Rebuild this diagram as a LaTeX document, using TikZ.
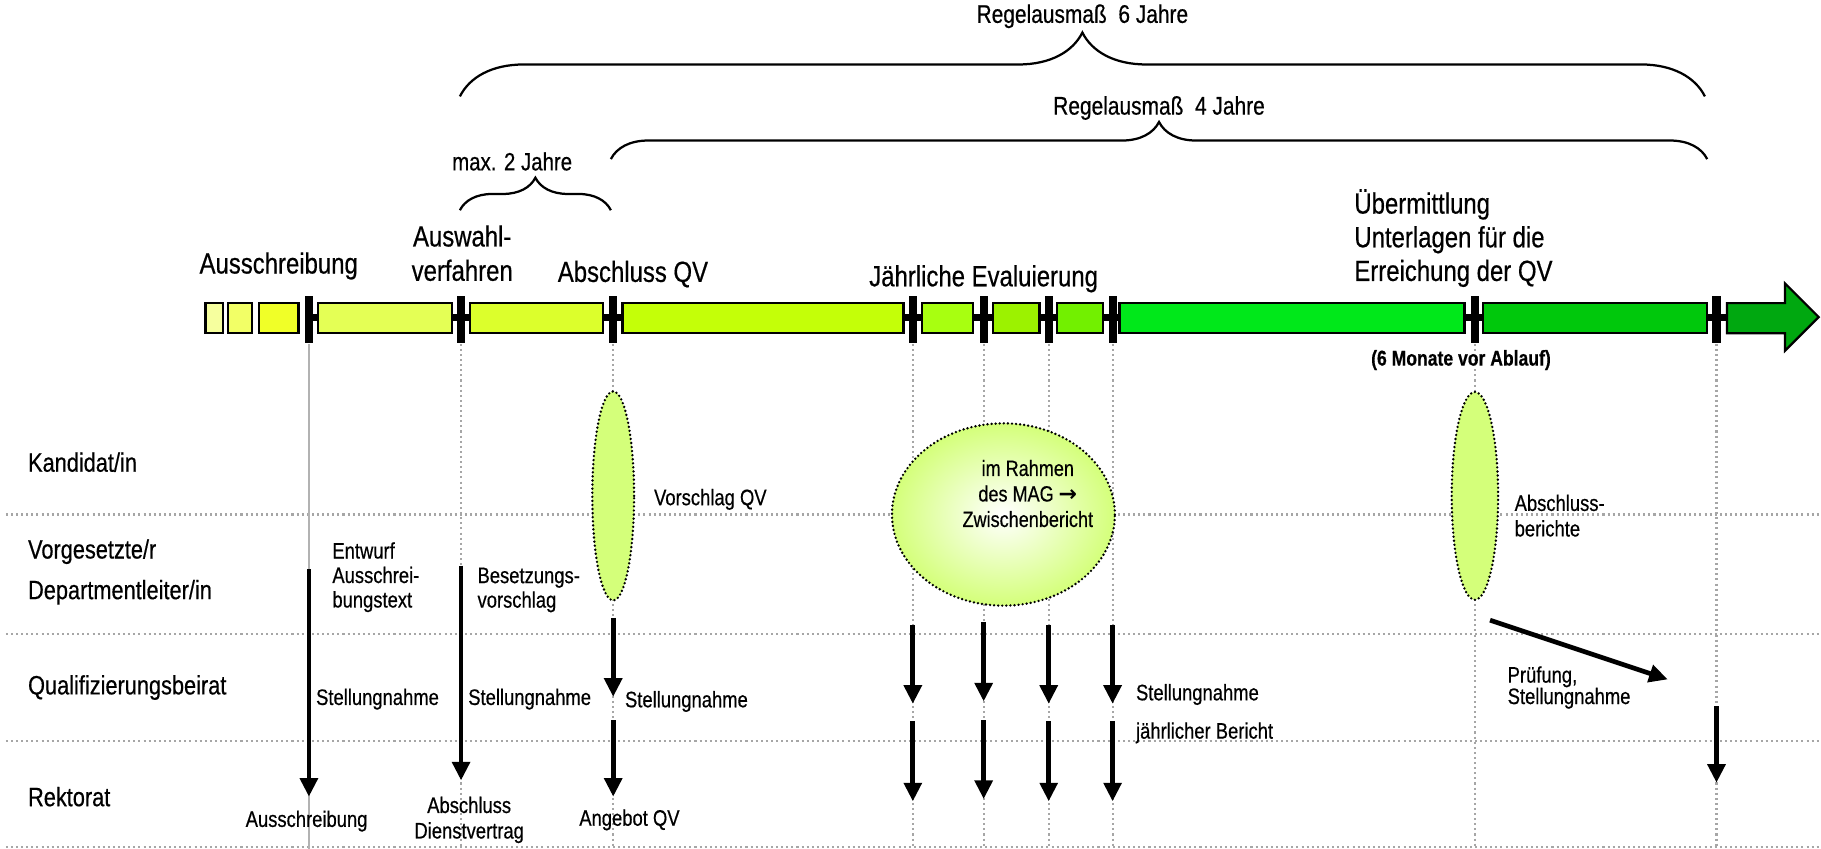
\documentclass[tikz,border=0pt]{standalone}
\usepackage{fontspec}
\setmainfont{Liberation Sans}[FakeStretch=0.82, FakeBold=0.5]
\newfontfamily\arrowfont{DejaVu Sans}
\usetikzlibrary{arrows.meta, decorations.pathreplacing, shapes.geometric}

\definecolor{yA}{HTML}{F6FF9E}
\definecolor{yB}{HTML}{F2FF66}
\definecolor{yC}{HTML}{F0FF28}
\definecolor{yD}{HTML}{E4FF55}
\definecolor{yE}{HTML}{DCFF2C}
\definecolor{yF}{HTML}{C4FF08}
\definecolor{gA}{HTML}{A8FF10}
\definecolor{gB}{HTML}{9CF200}
\definecolor{gC}{HTML}{72F000}
\definecolor{gD}{HTML}{00E81A}
\definecolor{gE}{HTML}{00C80C}
\definecolor{gF}{HTML}{00A810}
\definecolor{qvgreen}{HTML}{D4FF7A}

\begin{document}
\begin{tikzpicture}[x=0.02cm, y=-0.02cm, >={Triangle[width=0.3cm,length=0.32cm]}]
    \tikzset{
        phasebox/.style={draw=black, line width=1.1pt},
        guide/.style={draw=black!35, dash pattern=on 1pt off 1.5pt, line width=1pt},
        flow/.style={->, line width=2.3pt},
        lane/.style={anchor=west, font=\fontsize{13}{15}\selectfont},
        phase/.style={align=center, font=\fontsize{14.3}{16.5}\selectfont},
        note/.style={align=left, font=\fontsize{11}{12}\selectfont},
        yearbrace/.style={decorate, decoration={brace, amplitude=#1}, line width=1.1pt},
        talk/.style={ellipse, draw, dash pattern=on 0pt off 2pt, line cap=round, line width=1.3pt, inner sep=0pt},
    }
    \useasboundingbox (0,0) rectangle (1568,731);

    % Hilfslinien
    \foreach \y in {443,546,638,729}
        \draw[guide] (5,\y) -- (1568,\y);
    \foreach \x in {397,528,786,847,903,958,1270,1478}
        \draw[guide] (\x,296) -- (\x,731);
    \draw[black!30, line width=1.2pt] (266,296) -- (266,731);

    % Zeitachse
    \draw[line width=0.12cm] (266,273) -- (1490,273);
    \foreach \xa/\xb/\col in {177/192/yA, 196/217/yB, 223/257/yC, 274/389/yD, 405/519/yE, 536/778/yF,
                              794/838/gA, 855/895/gB, 910/950/gC, 964/1261/gD, 1277/1470/gE}
        \draw[phasebox, fill=\col] (\xa,261) rectangle (\xb,287);
    \draw[phasebox, fill=gF] (1487,261) -- (1537,261) -- (1537,244) -- (1566,273)
        -- (1537,302) -- (1537,287) -- (1487,287) -- cycle;
    \foreach \x in {266,397,528,786,847,903,958,1270,1478}
        \fill (\x-3.5,255) rectangle (\x+3.5,295);

    % Klammern
    \draw[yearbrace=1.1cm] (396,83) -- (1468,83);
    \draw[yearbrace=0.64cm] (526,137) -- (1470,137);
    \draw[yearbrace=0.56cm] (396,181) -- (526,181);
    \node[font=\fontsize{12.5}{14}\selectfont] (sechs) at (932,14) {Regelausmaß\ \ 6 Jahre};
    \node[font=\fontsize{12.5}{14}\selectfont] (vier) at (998,93) {Regelausmaß\ \ 4 Jahre};
    \node[font=\fontsize{12.2}{14}\selectfont] (zwei) at (441,139) {max. 2 Jahre};

    % Phasen
    \node[phase] (ausschr) at (240,229) {Ausschreibung};
    \node[phase, font=\fontsize{14.3}{16.8}\selectfont] (auswahl) at (398,218) {Auswahl-\\verfahren};
    \node[phase] (abschl) at (545,236) {Abschluss QV};
    \node[phase] (evaluier) at (847,240) {Jährliche Evaluierung};
    \node[phase, align=left, anchor=west, font=\fontsize{14.3}{16.5}\selectfont] (uebermit) at (1160,205)
        {Übermittlung\\Unterlagen für die\\Erreichung der QV};
    \node[font=\bfseries\fontsize{10.5}{12}\selectfont] (ablauf) at (1258,310) {(6 Monate vor Ablauf)};

    % Rollen
    \node[lane] (kand) at (18,398) {Kandidat/in};
    \node[lane] (vorg) at (18,475) {Vorgesetzte/r};
    \node[lane] (dept) at (18,510) {Departmentleiter/in};
    \node[lane] (beirat) at (18,592) {Qualifizierungsbeirat};
    \node[lane] (rekt) at (18,686) {Rektorat};

    % Vorschlaege und Berichte
    \node[talk, fill=qvgreen, minimum width=0.72cm, minimum height=3.6cm] (vorschl) at (528,427) {};
    \node[talk, shading=radial, inner color=white, outer color=qvgreen,
          minimum width=3.84cm, minimum height=3.14cm] (mag) at (864,443) {};
    \node[talk, fill=qvgreen, minimum width=0.8cm, minimum height=3.58cm] (endber) at (1270,427) {};
    \node[align=center, font=\fontsize{10.8}{12.5}\selectfont] (magtext) at (885,425)
        {im Rahmen\\des MAG {\arrowfont\bfseries →}\\Zwischenbericht};
    \node[note, anchor=west] (vqv) at (557,430) {Vorschlag QV};
    \node[note, anchor=west, font=\fontsize{11}{12.5}\selectfont] (abber) at (1298,444) {Abschluss-\\berichte};

    % Ablaeufe
    \foreach \x/\ya/\yb [count=\i] in {266/490/686, 397/487/672, 528/532/600, 528/620/686,
                                       786/538/606, 847/536/604, 903/538/606, 958/538/606,
                                       786/621/690, 847/620/688, 903/621/690, 958/621/690,
                                       1478/608/674} {
        \coordinate (s\i) at (\x,\ya);
        \coordinate (e\i) at (\x,\yb);
        \draw[flow] (s\i) -- (e\i);
    }
    \coordinate (pa) at (1283,534);
    \coordinate (pb) at (1436,585);
    \draw[flow] (pa) -- (pb);

    \node[note, anchor=west] (entwurf) at (280,497) {Entwurf\\Ausschrei-\\bungstext};
    \node[note, anchor=west] (stA) at (266,602) {Stellungnahme};
    \node[note, align=center] (ausA) at (264,707) {Ausschreibung};
    \node[note, anchor=west] (beset) at (405,508) {Besetzungs-\\vorschlag};
    \node[note, anchor=west] (stB) at (397,602) {Stellungnahme};
    \node[note, align=center, font=\fontsize{11}{12.5}\selectfont] (dienst) at (404,706) {Abschluss\\Dienstvertrag};
    \node[note, anchor=west] (stC) at (532,604) {Stellungnahme};
    \node[note, align=center] (angebot) at (542,706) {Angebot QV};
    \node[note, anchor=west] (stD) at (972,598) {Stellungnahme};
    \node[note, anchor=west] (bericht) at (972,631) {jährlicher Bericht};
    \node[note, anchor=west, font=\fontsize{11}{10.5}\selectfont] (pruef) at (1292,592) {Prüfung,\\Stellungnahme};
\end{tikzpicture}
\end{document}
